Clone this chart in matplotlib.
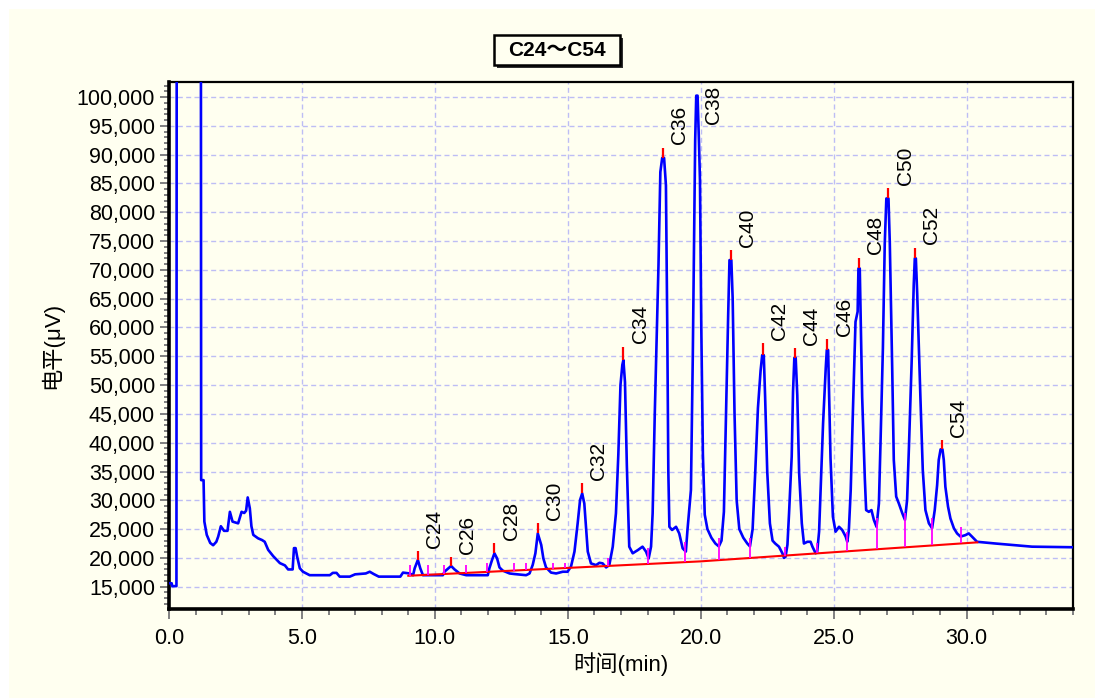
import matplotlib
matplotlib.use("Agg")
import matplotlib.pyplot as plt
from matplotlib.patches import Rectangle
from matplotlib.ticker import MultipleLocator, FuncFormatter
import numpy as np

plt.rcParams['font.family'] = ['Liberation Sans', 'Noto Sans CJK SC', 'DejaVu Sans']

# ---------------- data ----------------
trace_t = [0.00, 0.10, 0.12, 0.28, 0.29, 1.20, 1.21, 1.30, 1.33, 1.42, 1.55, 1.66, 1.78, 1.85,
           1.95, 2.07, 2.20, 2.29, 2.39, 2.60, 2.73, 2.83, 2.90, 2.96, 3.04, 3.10, 3.17, 3.35,
           3.50, 3.60, 3.73, 3.92, 4.17, 4.36, 4.48, 4.65, 4.70, 4.76, 4.82, 4.92, 5.04, 5.29,
           6.05, 6.16, 6.30, 6.42, 6.80, 7.00, 7.40, 7.55, 7.70, 7.89, 8.70, 8.80, 9.05, 9.18,
           9.24, 9.36, 9.45, 9.55, 10.30, 10.36, 10.55, 10.61, 10.74, 10.93, 11.18, 11.99, 12.05,
           12.15, 12.24, 12.34, 12.43, 12.55, 12.81, 12.99, 13.43, 13.56, 13.68, 13.78, 13.87,
           14.00, 14.08, 14.18, 14.37, 14.56, 14.81, 14.99, 15.12, 15.25, 15.37, 15.46, 15.54,
           15.62, 15.69, 15.75, 15.87, 16.06, 16.19, 16.31, 16.44, 16.56, 16.69, 16.81, 16.90,
           16.98, 17.05, 17.09, 17.15, 17.22, 17.31, 17.44, 17.63, 17.81, 17.94, 18.04, 18.13,
           18.19, 18.27, 18.36, 18.41, 18.48, 18.55, 18.62, 18.69, 18.74, 18.78, 18.82, 18.92,
           19.07, 19.19, 19.32, 19.44, 19.50, 19.63, 19.70, 19.75, 19.79, 19.83, 19.88, 19.93,
           19.97, 20.02, 20.08, 20.15, 20.25, 20.40, 20.55, 20.68, 20.78, 20.87, 20.95, 21.03,
           21.08, 21.15, 21.20, 21.27, 21.35, 21.45, 21.60, 21.75, 21.85, 21.95, 22.05, 22.15,
           22.25, 22.31, 22.37, 22.42, 22.50, 22.60, 22.70, 22.80, 22.94, 23.07, 23.13, 23.19,
           23.26, 23.32, 23.42, 23.47, 23.52, 23.57, 23.63, 23.70, 23.80, 23.88, 24.01, 24.13,
           24.20, 24.32, 24.38, 24.45, 24.51, 24.60, 24.70, 24.74, 24.79, 24.82, 24.88, 24.97,
           25.07, 25.20, 25.32, 25.45, 25.51, 25.57, 25.64, 25.72, 25.82, 25.90, 25.93, 25.98,
           26.01, 26.07, 26.17, 26.22, 26.32, 26.42, 26.51, 26.61, 26.70, 26.76, 26.85, 26.92,
           26.98, 27.06, 27.11, 27.20, 27.26, 27.35, 27.45, 27.58, 27.68, 27.76, 27.83, 27.93,
           28.01, 28.05, 28.09, 28.14, 28.26, 28.35, 28.45, 28.58, 28.70, 28.80, 28.89, 28.95,
           29.02, 29.09, 29.14, 29.20, 29.30, 29.39, 29.52, 29.64, 29.77, 29.95, 30.08, 30.20,
           30.39, 31.08, 31.71, 32.46, 34.00]
trace_v = [15600, 15600, 15100, 15100, 110000, 110000, 33500, 33500, 26300, 24000, 22600, 22200,
           22800, 23700, 25500, 24700, 24700, 28000, 26300, 26000, 28000, 27800, 28200, 30500,
           28600, 25500, 24000, 23400, 23100, 22800, 21400, 20300, 19100, 18700, 18000, 18000,
           21700, 21700, 20200, 18200, 17600, 17000, 17000, 17400, 17400, 16750, 16750, 17150,
           17300, 17600, 17200, 16750, 16750, 17450, 17300, 17000, 18200, 19650, 18200, 17000,
           17000, 17600, 18350, 18600, 18000, 17300, 17000, 17000, 18200, 19650, 20800, 19900,
           18350, 17800, 17300, 17200, 17000, 17300, 18800, 20800, 24250, 22250, 19900, 18350,
           17450, 17300, 17600, 17600, 18500, 21100, 26000, 30050, 31200, 29450, 24850, 21100,
           19050, 18750, 19150, 19050, 18350, 18750, 21950, 27750, 38000, 50000, 53500, 54350,
           50500, 36000, 21950, 20800, 21350, 21950, 21100, 19900, 21950, 27750, 45000, 62000,
           70850, 87000, 89450, 89450, 84700, 60000, 35000, 25400, 24850, 25400, 24250, 21650,
           21100, 24850, 31800, 55000, 75000, 92550, 100250, 100250, 92550, 85600, 60000, 38000,
           27500, 25000, 23500, 22500, 22000, 23000, 28000, 45000, 62000, 71700, 71700, 65000,
           45000, 30000, 25000, 23500, 22500, 22000, 25000, 35000, 46000, 52500, 55200, 55200,
           48000, 35000, 26000, 23000, 22500, 21950, 20800, 20000, 20200, 22300, 27700, 37600,
           48850, 54750, 54750, 48250, 34700, 26000, 22500, 22800, 22800, 21950, 20800, 21100,
           24550, 32050, 43350, 52900, 56100, 56100, 50000, 37300, 27150, 24550, 25400, 24850,
           23700, 22800, 24850, 31800, 45100, 61000, 62750, 70250, 70250, 62750, 48000, 33800,
           28300, 28000, 28300, 26600, 25400, 29450, 39900, 56400, 74600, 82400, 82400, 74600,
           52900, 37000, 30650, 29450, 27750, 26600, 30050, 39300, 53800, 67400, 72000, 72000,
           65900, 48000, 35250, 28300, 26000, 25150, 28300, 32650, 37000, 38850, 38850, 37000,
           32350, 28900, 26850, 25150, 24250, 23700, 23950, 24250, 23700, 22800, 22500, 22250,
           21950, 21850]

peak_names = ['C24', 'C26', 'C28', 'C30', 'C32', 'C34', 'C36', 'C38',
              'C40', 'C42', 'C44', 'C46', 'C48', 'C50', 'C52', 'C54']
peak_t = [9.36, 10.61, 12.24, 13.87, 15.54, 17.09, 18.59, 19.85,
          21.12, 22.34, 23.545, 24.765, 25.955, 27.06, 28.07, 29.06]
peak_top = [19650, 18600, 20800, 24250, 31200, 54350, 89450, 100250,
            71700, 55200, 54750, 56100, 70250, 82400, 72000, 38850]
peak_apex = [21200, 20100, 22530, 26000, 32940, 56620, 91190, 100250,
             73450, 57300, 56380, 57940, 72120, 84150, 73850, 40460]

mark_t = [9.05, 9.74, 10.34, 11.18, 11.95, 12.99, 13.43, 14.46, 14.91, 16.50, 18.00,
          19.42, 20.70, 21.85, 23.17, 24.36, 25.49, 26.61, 27.68, 28.71, 29.78]
mark_top = [18770, 18770, 18770, 18770, 19050, 19050, 19050, 19050, 19050, 19920, 21660,
            22820, 23500, 23500, 21950, 22520, 24550, 26860, 27730, 26860, 25420]

baseline_t = [9.0, 20.0, 30.4]
baseline_v = [16900, 19400, 22700]

x_ticks = [0, 5, 10, 15, 20, 25, 30]
y_ticks = list(range(15000, 100001, 5000))

title_text = 'C24～C54'
x_label = '时间(min)'
y_label = '电平(μV)'

# ---------------- figure ----------------
W, H = 1095, 698
fig = plt.figure(figsize=(W / 100, H / 100), dpi=100)
fig.patch.set_facecolor('white')
bg = '#FFFFF0'
fig.add_artist(Rectangle((9 / W, 0), 1, 1 - 9 / H, transform=fig.transFigure,
                         facecolor=bg, edgecolor='none', zorder=-10))

ax = fig.add_axes([169 / W, 1 - 609 / H, (1073 - 169) / W, (609 - 82) / H])
ax.set_facecolor(bg)
ax.set_xlim(0, 34.0)
ax.set_ylim(11130, 102620)
ax.set_axisbelow(True)

ax.plot(trace_t, trace_v, color='#0000FF', lw=1.9, zorder=3)
ax.plot(baseline_t, baseline_v, color='#FF0000', lw=1.5, zorder=4)
mark_bottom = np.interp(mark_t, baseline_t, baseline_v)
ax.vlines(mark_t, mark_bottom, mark_top, color='#FF00FF', lw=1.3, zorder=5)
ax.vlines(peak_t, peak_top, peak_apex, color='#FF0000', lw=1.6, zorder=5)

for name, t, a in zip(peak_names, peak_t, peak_apex):
    ax.annotate(name, xy=(t, min(a, 94700)), xytext=(12, 2.5), textcoords='offset points',
                rotation=90, ha='center', va='bottom', fontsize=15, color='black',
                annotation_clip=False)

ax.set_xticks(x_ticks)
ax.xaxis.set_minor_locator(MultipleLocator(1))
ax.set_yticks(y_ticks)
ax.yaxis.set_minor_locator(MultipleLocator(1000))
ax.xaxis.set_major_formatter(FuncFormatter(lambda v, p: f'{v:.1f}'))
ax.yaxis.set_major_formatter(FuncFormatter(lambda v, p: f'{v:,.0f}'))

ax.tick_params(axis='x', which='major', direction='out', length=7.5, width=1.4,
               color='#808080', labelsize=15.5, pad=6)
ax.tick_params(axis='x', which='minor', direction='out', length=4.5, width=1.4, color='#808080')
ax.tick_params(axis='y', which='major', direction='out', length=6.5, width=1.4,
               color='#808080', labelsize=15.5, pad=3.5)
ax.tick_params(axis='y', which='minor', direction='out', length=3.8, width=1.4, color='#808080')

ax.grid(True, which='major', color='#BDBDF5', linestyle=(0, (3.6, 2.4)), linewidth=1.0)

for side in ['left', 'bottom']:
    ax.spines[side].set_linewidth(2.6)
    ax.spines[side].set_color('black')
for side in ['top', 'right']:
    ax.spines[side].set_linewidth(1.6)
    ax.spines[side].set_color('black')

ax.set_xlabel(x_label, fontsize=16)
ax.xaxis.set_label_coords(0.5, -0.083)
ax.set_ylabel(y_label, fontsize=16)
ax.yaxis.set_label_coords(-0.117, 0.5)

# title box with shadow
bx0, by0, bw, bh = 494, 35, 126, 30
fig.add_artist(Rectangle(((bx0 + 3) / W, 1 - (by0 + bh + 3) / H), bw / W, bh / H,
                         transform=fig.transFigure, facecolor='#303030', edgecolor='none', zorder=5))
fig.add_artist(Rectangle((bx0 / W, 1 - (by0 + bh) / H), bw / W, bh / H,
                         transform=fig.transFigure, facecolor=bg, edgecolor='black',
                         linewidth=1.8, zorder=6))
fig.text((bx0 + bw / 2) / W, 1 - (by0 + bh / 2 + 1) / H, title_text, ha='center', va='center',
         fontsize=15, fontweight='bold', zorder=7)

fig.savefig('out.png', dpi=100, facecolor=fig.get_facecolor())
